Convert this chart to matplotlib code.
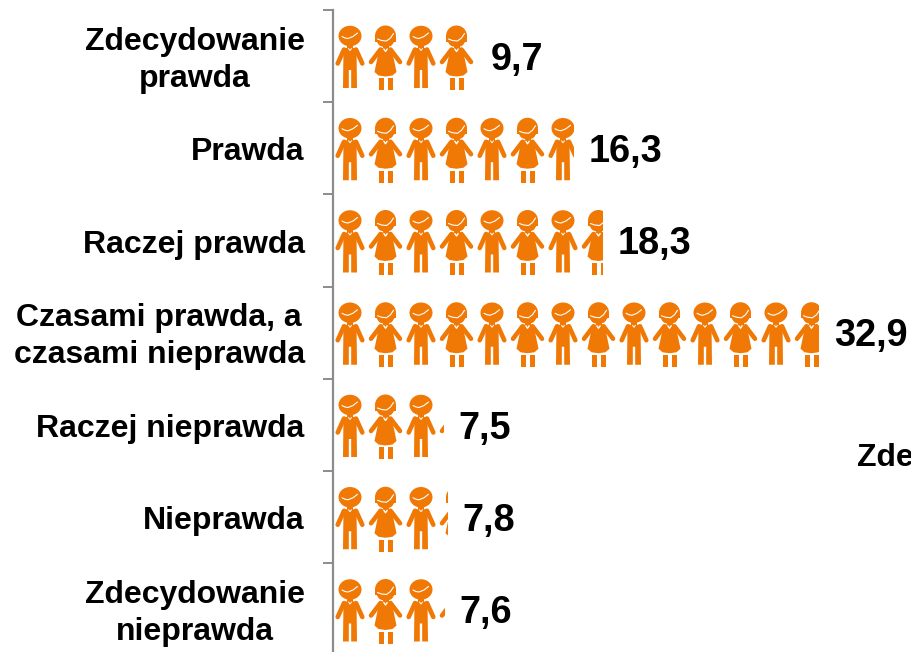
import math
import matplotlib
matplotlib.use("Agg")
import matplotlib.pyplot as plt
from matplotlib.patches import Ellipse, Polygon, Rectangle
from matplotlib.transforms import Affine2D, ScaledTranslation

plt.rcParams['font.family'] = ['Liberation Sans', 'DejaVu Sans']
plt.rcParams['font.weight'] = 'bold'

categories = ['Zdecydowanie\nprawda', 'Prawda', 'Raczej prawda',
              'Czasami prawda, a\nczasami nieprawda', 'Raczej nieprawda',
              'Nieprawda', 'Zdecydowanie\nnieprawda']
values = [9.7, 16.3, 18.3, 32.9, 7.5, 7.8, 7.6]
value_labels = ['9,7', '16,3', '18,3', '32,9', '7,5', '7,8', '7,6']

ORANGE = '#F07805'
GREY = '#8C8C8C'
W, H = 911, 652
PX_X = 14.8    # pixels per percent
PX_Y = 92.25   # pixels per row
UNIT = 35.5 / PX_X   # percent covered by one figure

fig = plt.figure(figsize=(W / 100, H / 100), dpi=100)
ax = fig.add_axes([0, 0, 1, 1])


def boy():
    parts = [Ellipse((0, -20), 23, 20.5, color=ORANGE),
             Polygon([(-6.5, -8), (6.5, -8), (7, 32), (1.2, 32), (1.2, 14),
                      (-1.2, 14), (-1.2, 32), (-7, 32)], color=ORANGE),
             Rectangle((-3, -11), 6, 4, color=ORANGE)]
    lines = [([-6, -12.3], [-6.5, 7.5], ORANGE, 3.3), ([6, 12.3], [-6.5, 7.5], ORANGE, 3.3),
             ([-8, -5, -2, 3, 7.5], [-19.5, -18, -17.5, -19.5, -23], 'white', 0.8),
             ([-1.5, 0, 1.5], [-7.5, -5.5, -7.5], 'white', 0.7)]
    return parts, lines


def girl():
    parts = [Ellipse((0, -20), 21, 21, color=ORANGE),
             Rectangle((-10.5, -20), 21, 5.5, color=ORANGE),
             Ellipse((0, -13), 15, 8, color=ORANGE),
             Rectangle((-3, -11), 6, 4, color=ORANGE),
             Polygon([(-6, -8), (6, -8), (11, 16), (7, 19.5), (0, 20.5),
                      (-7, 19.5), (-11, 16)], color=ORANGE),
             Rectangle((-6.2, 22.3), 4.2, 12, color=ORANGE),
             Rectangle((2.8, 22.3), 4.2, 12, color=ORANGE)]
    lines = [([-5, -14.5], [-6.5, 6], ORANGE, 3.3), ([5, 14.5], [-6.5, 6], ORANGE, 3.3),
             ([-8, -4, 1, 5, 8], [-17, -15.5, -15, -18, -22.5], 'white', 0.8),
             ([-1.7, 0, 1.7], [-7, -4.5, -7], 'white', 1.0)]
    return parts, lines


# pictogram rows, one figure per UNIT, cut off at the value
for i, val in enumerate(values):
    clip = Rectangle((0, i - 0.5), val, 1, transform=ax.transData)
    for k in range(math.ceil(val / UNIT)):
        x0 = (17.5 + 35.5 * k) / PX_X
        tr = Affine2D().scale(1 / PX_X, 1 / PX_Y).translate(x0, i) + ax.transData
        parts, lines = (boy if k % 2 == 0 else girl)()
        for p in parts:
            p.set_linewidth(0)
            p.set_transform(tr)
            ax.add_artist(p)
            p.set_clip_path(clip)
        for xs, ys, col, lw in lines:
            ln, = ax.plot(xs, ys, color=col, lw=lw, transform=tr,
                          solid_capstyle='round', scalex=False, scaley=False)
            ln.set_clip_path(clip)
    ax.annotate(value_labels[i], (val, i), xytext=(10.5, -2.6), textcoords='offset points',
                ha='left', va='center', fontsize=27.3, fontweight='bold', color='black')

for s in ['top', 'right', 'bottom']:
    ax.spines[s].set_visible(False)
ax.spines['left'].set_position(('data', 0))
ax.spines['left'].set_color(GREY)
ax.spines['left'].set_linewidth(1.6)
ax.spines['left'].set_bounds(-0.5, 6.5)

ax.set_xticks([])
ax.set_yticks(range(len(categories)))
ax.set_yticklabels(categories, fontsize=23, fontweight='bold', color='black',
                   multialignment='center', linespacing=1.3, va='center')
ax.tick_params(axis='y', which='major', length=0, pad=20)
ax.set_yticks([i - 0.5 for i in range(len(categories) + 1)], minor=True)
ax.tick_params(axis='y', which='minor', length=7, width=1.4, color=GREY)

# the ticks widen the limits, so the limits come last
ax.set_xlim(-332.5 / PX_X, (W - 332.5) / PX_X)
ax.set_ylim((H - 56) / PX_Y, -56 / PX_Y)

# labels sit a little lower than tick centre
nudge = ScaledTranslation(0, -3 / 72, fig.dpi_scale_trans)
for lab in ax.get_yticklabels():
    lab.set_transform(lab.get_transform() + nudge)

# legend text cut by the edge of the picture
fig.text(857 / W, 1 - 458 / H, 'Zdecydowanie', fontsize=23, fontweight='bold',
         ha='left', va='center', color='black')

fig.savefig('out.png', dpi=100)
